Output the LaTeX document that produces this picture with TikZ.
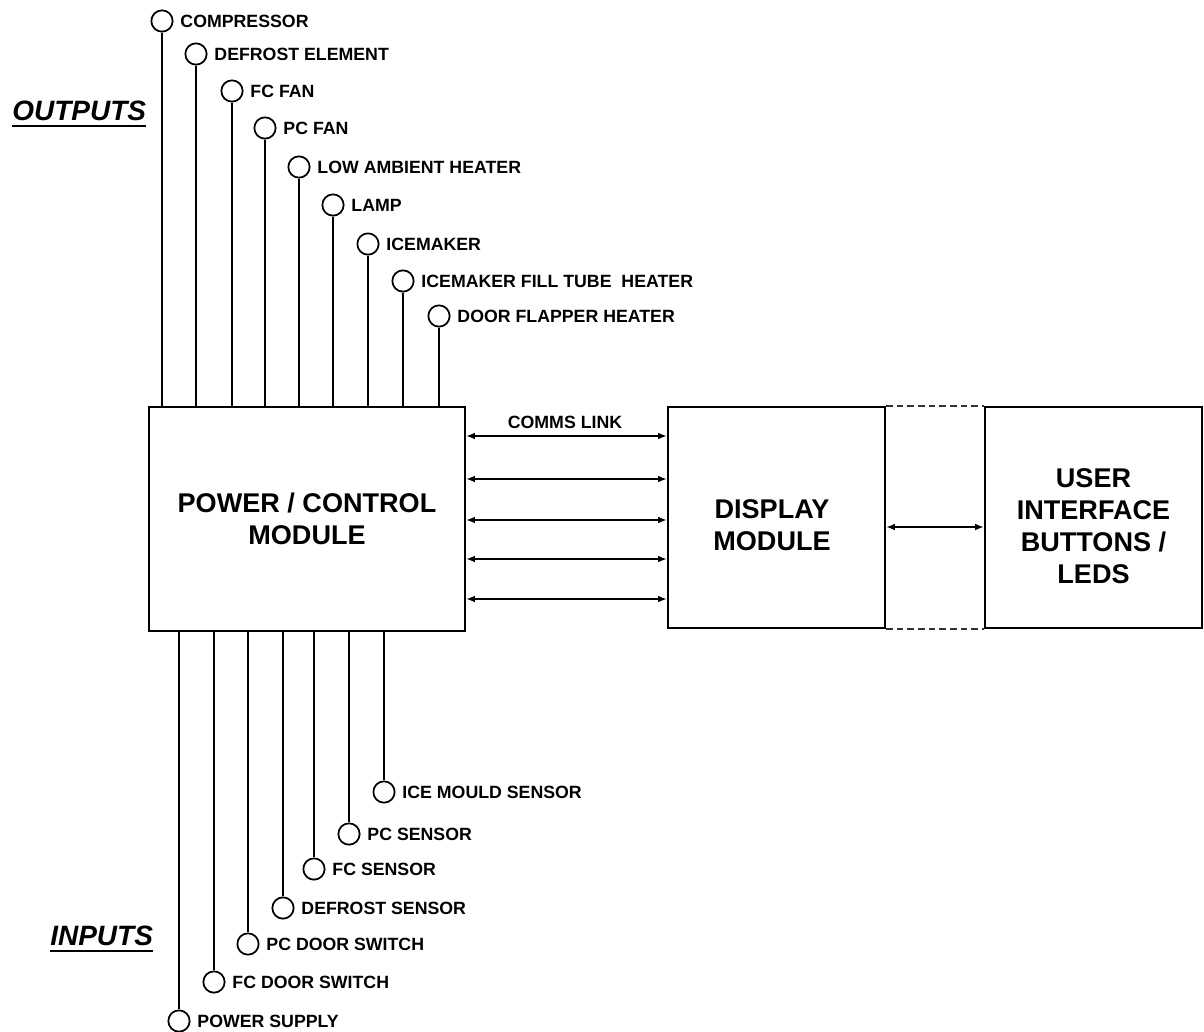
\documentclass[tikz,border=0pt]{standalone}
\usepackage{fontspec}
\setmainfont{Liberation Sans}
\usetikzlibrary{arrows.meta}
\begin{document}
\begin{tikzpicture}[x=0.75pt,y=-0.75pt,
  term/.style={circle, draw, line width=1.3pt, minimum size=16pt, inner sep=0pt},
  lbl/.style={anchor=west, inner sep=0pt, font=\fontsize{13.3}{15}\selectfont\bfseries},
  modbox/.style={draw, line width=1.7pt, inner sep=0pt, align=center,
    font=\fontsize{20.3}{24}\selectfont\bfseries},
  wire/.style={line width=1.4pt},
  biarrow/.style={line width=1.2pt, {Latex[length=6.5pt,width=5pt]}-{Latex[length=6.5pt,width=5pt]}},
  dashlink/.style={line width=1.4pt, dash pattern=on 5pt off 3pt, draw=black!80},
  head/.style={anchor=base west, inner sep=0pt, font=\fontsize{21}{24}\selectfont\bfseries\itshape}
]
\useasboundingbox (0,0) rectangle (1204,1032);

% modules
\node[modbox, minimum width=237pt, minimum height=168pt] (pcm) at (307,519) {POWER / CONTROL\\MODULE};
\node[modbox, minimum width=162.75pt, minimum height=165.75pt] (disp) at (776.5,517.5) {};
\node[modbox, minimum width=162.75pt, minimum height=165.75pt] (ui) at (1093.5,517.5) {};
\node[inner sep=0pt, align=center, font=\fontsize{20.3}{24}\selectfont\bfseries] (disptxt) at (772,525) {DISPLAY\\MODULE};
\node[inner sep=0pt, align=center, font=\fontsize{20.3}{24}\selectfont\bfseries] (uitxt) at (1093.5,526) {USER\\INTERFACE\\BUTTONS /\\LEDS};

% headings
\node[head] (outh) at (12,120) {OUTPUTS};
\draw[line width=2.2pt] ([yshift=-4.5pt]outh.base west) -- ([yshift=-4.5pt]outh.base east);
\node[head] (inh) at (50,945) {INPUTS};
\draw[line width=2.2pt] ([yshift=-4.5pt]inh.base west) -- ([yshift=-4.5pt]inh.base east);

% outputs
\foreach \n/\x/\y/\t in {
  o1/162/21/COMPRESSOR,
  o2/196/54/DEFROST ELEMENT,
  o3/232/91/FC FAN,
  o4/265/128/PC FAN,
  o5/299/167/LOW AMBIENT HEATER,
  o6/333/205/LAMP,
  o7/368/244/ICEMAKER,
  o8/403/281/ICEMAKER FILL TUBE\ \ HEATER,
  o9/439/316/DOOR FLAPPER HEATER}{
  \node[term] (\n) at (\x,\y) {};
  \node[lbl] (\n t) at ([xshift=5pt]\n.east) {\t};
  \draw[wire] (\n) -- (\n |- pcm.north);
}

% inputs
\foreach \n/\x/\y/\t in {
  i1/384/792/ICE MOULD SENSOR,
  i2/349/834/PC SENSOR,
  i3/314/869/FC SENSOR,
  i4/283/908/DEFROST SENSOR,
  i5/248/944/PC DOOR SWITCH,
  i6/214/982/FC DOOR SWITCH,
  i7/179/1021/POWER SUPPLY}{
  \node[term] (\n) at (\x,\y) {};
  \node[lbl] (\n t) at ([xshift=5pt]\n.east) {\t};
  \draw[wire] (\n) -- (\n |- pcm.south);
}

% comms link
\foreach \c/\y in {c1/436, c2/479, c3/520, c4/559, c5/599}{
  \coordinate (\c) at (0,\y);
  \draw[biarrow] (pcm.east |- \c) -- (disp.west |- \c);
}
\node[inner sep=0pt, font=\fontsize{13.3}{15}\selectfont\bfseries] (comms) at (565,422) {COMMS LINK};

% display to UI
\coordinate (m) at (0,527);
\draw[biarrow] (disp.east |- m) -- (ui.west |- m);
\draw[dashlink] (disp.north east) -- (ui.north west);
\draw[dashlink] (disp.south east) -- (ui.south west);
\end{tikzpicture}
\end{document}
